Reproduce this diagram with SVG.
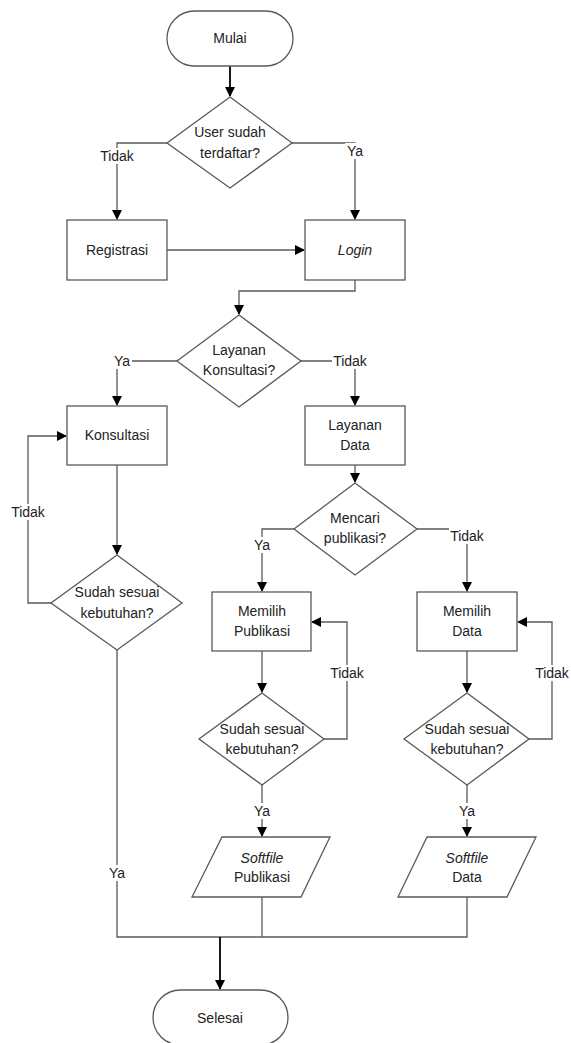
<svg xmlns="http://www.w3.org/2000/svg" width="571" height="1043" viewBox="0 0 571 1043">
<defs>
<marker id="ah" markerWidth="10" markerHeight="10" refX="9" refY="5" orient="auto" markerUnits="userSpaceOnUse">
<path d="M0,0 L10,5 L0,10 Z" fill="#000"/>
</marker>
<style>
.s{fill:#fff;stroke:#595959;stroke-width:1.3}
.c{fill:none;stroke:#595959;stroke-width:1.3}
.c2{fill:none;stroke:#000;stroke-width:1.8}
text{font-family:"Liberation Sans",Arial,sans-serif;font-size:14px;fill:#222;text-anchor:middle;dominant-baseline:central}
.i{font-style:italic}
.lb{fill:#fff;stroke:none}
</style>
</defs>
<rect width="571" height="1043" fill="#fff"/>
<g id="connectors">
<path class="c2" d="M230,66 V96" marker-end="url(#ah)"/>
<path class="c" d="M167,143 H117 V219" marker-end="url(#ah)"/>
<path class="c" d="M292,143 H355 V219" marker-end="url(#ah)"/>
<path class="c" d="M167,250 H304" marker-end="url(#ah)"/>
<path class="c" d="M355,280 V291 H239 V314" marker-end="url(#ah)"/>
<path class="c" d="M177,361 H117 V405" marker-end="url(#ah)"/>
<path class="c" d="M301,361 H355 V405" marker-end="url(#ah)"/>
<path class="c" d="M355,465 V482" marker-end="url(#ah)"/>
<path class="c" d="M117,465 V554" marker-end="url(#ah)"/>
<path class="c" d="M51,603 H28 V436 H66" marker-end="url(#ah)"/>
<path class="c" d="M294,529 H262 V591" marker-end="url(#ah)"/>
<path class="c" d="M417,529 H467 V591" marker-end="url(#ah)"/>
<path class="c" d="M262,651 V692" marker-end="url(#ah)"/>
<path class="c" d="M467,651 V692" marker-end="url(#ah)"/>
<path class="c" d="M324,739 H347 V622 H312" marker-end="url(#ah)"/>
<path class="c" d="M529,739 H552 V622 H518" marker-end="url(#ah)"/>
<path class="c" d="M262,785 V836" marker-end="url(#ah)"/>
<path class="c" d="M467,785 V836" marker-end="url(#ah)"/>
<path class="c" d="M117,650 V937 H467 V897"/>
<path class="c" d="M262,897 V937"/>
<path class="c2" d="M220,937 V989" marker-end="url(#ah)"/>
<rect class="lb" x="99" y="148" width="36" height="16"/>
<text x="117" y="156">Tidak</text>
<rect class="lb" x="345" y="143" width="20" height="16"/>
<text x="355" y="151">Ya</text>
<rect class="lb" x="112" y="353" width="20" height="16"/>
<text x="122" y="361">Ya</text>
<rect class="lb" x="332" y="353" width="36" height="16"/>
<text x="350" y="361">Tidak</text>
<rect class="lb" x="10" y="504" width="36" height="16"/>
<text x="28" y="512">Tidak</text>
<rect class="lb" x="252" y="537" width="20" height="16"/>
<text x="262" y="545">Ya</text>
<rect class="lb" x="449" y="528" width="36" height="16"/>
<text x="467" y="536">Tidak</text>
<rect class="lb" x="329" y="665" width="36" height="16"/>
<text x="347" y="673">Tidak</text>
<rect class="lb" x="534" y="665" width="36" height="16"/>
<text x="552" y="673">Tidak</text>
<rect class="lb" x="252" y="803" width="20" height="16"/>
<text x="262" y="811">Ya</text>
<rect class="lb" x="457" y="803" width="20" height="16"/>
<text x="467" y="811">Ya</text>
<rect class="lb" x="107" y="865" width="20" height="16"/>
<text x="117" y="873">Ya</text>
</g>
<g id="mulai">
<rect class="s" x="167" y="11" width="126" height="55" rx="27.5"/>
<text x="230" y="38">Mulai</text>
</g>
<g id="cek-user">
<polygon class="s" points="230,97 292,143 230,188 167,143"/>
<text x="230" y="132">User sudah</text>
<text x="230" y="153">terdaftar?</text>
</g>
<g id="registrasi">
<rect class="s" x="67" y="220" width="100" height="60"/>
<text x="117" y="250">Registrasi</text>
</g>
<g id="login">
<rect class="s" x="305" y="220" width="100" height="60"/>
<text class="i" x="355" y="250">Login</text>
</g>
<g id="layanan-konsultasi">
<polygon class="s" points="239,315 301,361 239,407 177,361"/>
<text x="239" y="350">Layanan</text>
<text x="239" y="370">Konsultasi?</text>
</g>
<g id="konsultasi">
<rect class="s" x="67" y="406" width="100" height="59"/>
<text x="117" y="435">Konsultasi</text>
</g>
<g id="layanan-data">
<rect class="s" x="305" y="406" width="100" height="59"/>
<text x="355" y="425">Layanan</text>
<text x="355" y="445">Data</text>
</g>
<g id="mencari-publikasi">
<polygon class="s" points="355,483 417,529 355,575 294,529"/>
<text x="355" y="518">Mencari</text>
<text x="355" y="538">publikasi?</text>
</g>
<g id="sesuai-konsultasi">
<polygon class="s" points="117,555 182,603 117,650 51,603"/>
<text x="117" y="592">Sudah sesuai</text>
<text x="117" y="613">kebutuhan?</text>
</g>
<g id="memilih-publikasi">
<rect class="s" x="212" y="592" width="99" height="59"/>
<text x="262" y="611">Memilih</text>
<text x="262" y="631">Publikasi</text>
</g>
<g id="memilih-data">
<rect class="s" x="417" y="592" width="100" height="59"/>
<text x="467" y="611">Memilih</text>
<text x="467" y="631">Data</text>
</g>
<g id="sesuai-publikasi">
<polygon class="s" points="262,693 324,739 262,785 199,739"/>
<text x="262" y="729">Sudah sesuai</text>
<text x="262" y="749">kebutuhan?</text>
</g>
<g id="sesuai-data">
<polygon class="s" points="467,693 529,739 467,785 404,739"/>
<text x="467" y="729">Sudah sesuai</text>
<text x="467" y="749">kebutuhan?</text>
</g>
<g id="softfile-publikasi">
<polygon class="s" points="222,837 330,837 301,897 192,897"/>
<text class="i" x="262" y="858">Softfile</text>
<text x="262" y="877">Publikasi</text>
</g>
<g id="softfile-data">
<polygon class="s" points="427,837 536,837 507,897 398,897"/>
<text class="i" x="467" y="858">Softfile</text>
<text x="467" y="877">Data</text>
</g>
<g id="selesai">
<rect class="s" x="153" y="990" width="135" height="55" rx="27.5"/>
<text x="220" y="1018">Selesai</text>
</g>
</svg>
